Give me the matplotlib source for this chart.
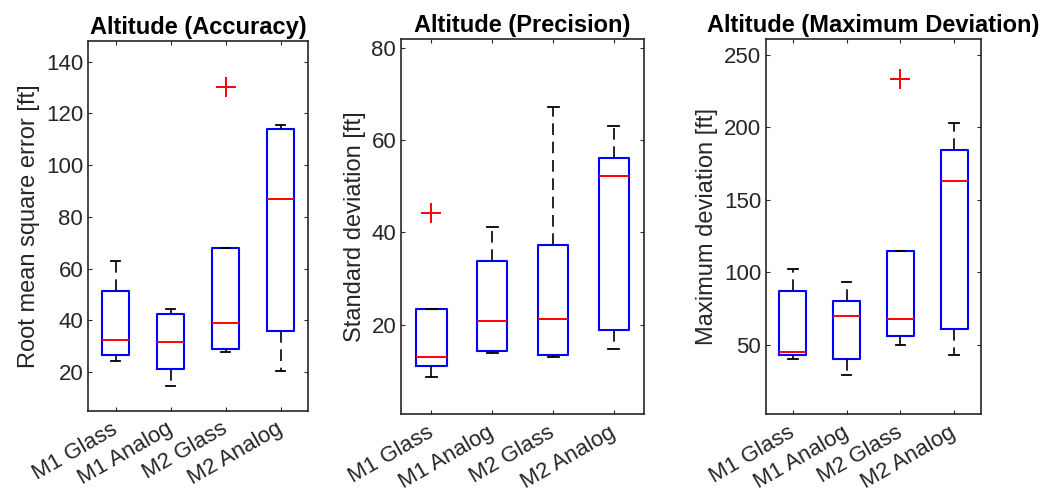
import matplotlib.pyplot as plt
import numpy as np

plt.rcParams['font.family'] = ['Liberation Sans', 'DejaVu Sans']

# groups
categories = ['M1 Glass', 'M1 Analog', 'M2 Glass', 'M2 Analog']

# Altitude (Accuracy) - RMSE [ft]
acc_low = [24.5, 14.5, 27.7, 20.3]
acc_q1 = [26.6, 21.3, 29.0, 35.8]
acc_med = [32.4, 31.8, 39.2, 87.0]
acc_q3 = [51.4, 42.3, 68.1, 114.1]
acc_high = [63.0, 44.6, 68.1, 115.4]
acc_out = [[], [], [130.4], []]

# Altitude (Precision) - std [ft]
prec_low = [8.5, 13.8, 12.9, 14.7]
prec_q1 = [10.9, 14.2, 13.3, 18.7]
prec_med = [12.9, 20.7, 21.2, 52.3]
prec_q3 = [23.4, 33.8, 37.3, 56.1]
prec_high = [23.4, 41.2, 67.2, 63.0]
prec_out = [[44.3], [], [], []]

# Altitude (Maximum Deviation) [ft]
maxd_low = [40.1, 29.0, 49.5, 42.6]
maxd_q1 = [43.1, 40.1, 55.7, 61.0]
maxd_med = [45.0, 70.0, 67.9, 163.1]
maxd_q3 = [86.8, 80.3, 114.4, 184.5]
maxd_high = [102.2, 93.0, 114.4, 202.9]
maxd_out = [[], [], [233.2], []]

panels = [
    ('Altitude (Accuracy)', 'Root mean square error [ft]',
     acc_low, acc_q1, acc_med, acc_q3, acc_high, acc_out,
     (5, 148), [20, 40, 60, 80, 100, 120, 140],
     [0.0837, 0.178, 0.2091, 0.740]),
    ('Altitude (Precision)', 'Standard deviation [ft]',
     prec_low, prec_q1, prec_med, prec_q3, prec_high, prec_out,
     (0.5, 82), [20, 40, 60, 80],
     [0.3812, 0.1714, 0.2313, 0.7506]),
    ('Altitude (Maximum Deviation)', 'Maximum deviation [ft]',
     maxd_low, maxd_q1, maxd_med, maxd_q3, maxd_high, maxd_out,
     (2, 261), [50, 100, 150, 200, 250],
     [0.7281, 0.1714, 0.2044, 0.7506]),
]

axcol = '#262626'
fig = plt.figure(figsize=(10.52, 5), dpi=100)

for title, ylabel, lo, q1, med, q3, hi, out, ylim, yticks, pos in panels:
    ax = fig.add_axes(pos)
    stats = []
    for i in range(len(categories)):
        stats.append({'whislo': lo[i], 'q1': q1[i], 'med': med[i], 'q3': q3[i],
                      'whishi': hi[i], 'fliers': out[i], 'label': categories[i]})
    ax.bxp(stats, widths=0.5, capwidths=0.18, showfliers=True,
           boxprops=dict(color='blue', linewidth=1.5),
           medianprops=dict(color='red', linewidth=1.4),
           whiskerprops=dict(color='black', linewidth=1.2, linestyle=(0, (7, 4))),
           capprops=dict(color='black', linewidth=1.3),
           flierprops=dict(marker='+', markeredgecolor='red', markersize=14,
                           markeredgewidth=1.4, linestyle='none'))
    ax.set_xlim(0.5, 4.5)
    ax.set_ylim(*ylim)
    ax.set_yticks(yticks)
    ax.set_xticks(np.arange(1, 5))
    ax.set_xticklabels(categories, rotation=30, ha='right', va='center',
                       rotation_mode='anchor')
    ax.tick_params(axis='x', pad=12)
    ax.tick_params(direction='in', top=True, right=True, length=3,
                   labelsize=16, colors=axcol, labelcolor=axcol, width=0.8)
    for s in ax.spines.values():
        s.set_color(axcol)
        s.set_linewidth(1.2)
    ax.set_ylabel(ylabel, fontsize=17, color=axcol, labelpad=4)
    ax.set_title(title, fontsize=17, fontweight='bold', color='black', pad=5)

fig.savefig('out.png', dpi=100)
